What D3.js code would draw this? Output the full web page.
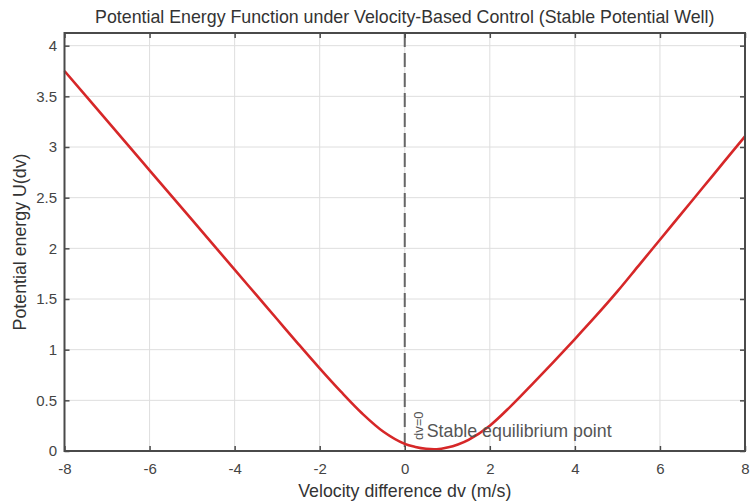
<!DOCTYPE html>
<html>
<head>
<meta charset="utf-8">
<script src="https://cdn.jsdelivr.net/npm/d3@7"></script>
<style>
  html, body { margin: 0; padding: 0; background: #fff; }
  svg { display: block; font-family: "Liberation Sans", Arial, sans-serif; }
</style>
</head>
<body>
<div id="chart"></div>
<script>
// ---- data ----
const dvValues = [-8, -7, -6, -5, -4, -3.5, -3, -2.5, -2, -1.5, -1, -0.5, 0, 0.25, 0.5, 0.75, 1, 1.25, 1.5, 2, 2.5, 3, 3.5, 4, 4.5, 5, 5.5, 6, 6.5, 7, 7.5, 8];
const uValues  = [3.75, 3.26, 2.77, 2.28, 1.79, 1.545, 1.30, 1.055, 0.815, 0.585, 0.37, 0.19, 0.07, 0.04, 0.022, 0.018, 0.035, 0.065, 0.11, 0.25, 0.445, 0.66, 0.88, 1.105, 1.335, 1.575, 1.83, 2.085, 2.34, 2.595, 2.85, 3.105];
const xTicks = [-8, -6, -4, -2, 0, 2, 4, 6, 8];
const yTicks = [0, 0.5, 1, 1.5, 2, 2.5, 3, 3.5, 4];
const titleText = "Potential Energy Function under Velocity-Based Control (Stable Potential Well)";
const xLabel = "Velocity difference dv (m/s)";
const yLabel = "Potential energy U(dv)";
const refLabel = "dv=0";
const annotText = "Stable equilibrium point";

(function () {
const W = 750, H = 504;
const mLeft = 64.5, mRight = 745, mTop = 33, mBottom = 451;

const svg = d3.select("#chart").append("svg").attr("width", W).attr("height", H);

const x = d3.scaleLinear().domain([-8, 8]).range([mLeft, mRight]);
const y = d3.scaleLinear().domain([0, 4.125]).range([mBottom, mTop]);

// grid
const grid = svg.append("g");
grid.selectAll("line.vx").data(xTicks).join("line")
  .attr("x1", d => x(d)).attr("x2", d => x(d))
  .attr("y1", mTop).attr("y2", mBottom)
  .attr("stroke", "#dedede").attr("stroke-width", 1);
grid.selectAll("line.hy").data(yTicks).join("line")
  .attr("x1", mLeft).attr("x2", mRight)
  .attr("y1", d => y(d)).attr("y2", d => y(d))
  .attr("stroke", "#dedede").attr("stroke-width", 1);

// dashed reference line at dv = 0
svg.append("line")
  .attr("x1", x(0)).attr("x2", x(0))
  .attr("y1", mTop).attr("y2", mBottom)
  .attr("stroke", "#666").attr("stroke-width", 2)
  .attr("stroke-dasharray", "14,6");

// curve
const line = d3.line().x((d, i) => x(dvValues[i])).y(d => y(d)).curve(d3.curveCatmullRom.alpha(0.5));
svg.append("path").datum(uValues)
  .attr("d", line)
  .attr("fill", "none")
  .attr("stroke", "#d62728")
  .attr("stroke-width", 2.6);

// axes (inward ticks on all sides)
const tickStyle = g => {
  g.select(".domain").remove();
  g.selectAll(".tick line").attr("stroke", "#4a4a4a").attr("stroke-width", 1.5);
  g.selectAll(".tick text").attr("fill", "#444").style("font-size", "15px");
};
svg.append("g").attr("transform", `translate(0,${mBottom})`)
  .call(d3.axisBottom(x).tickValues(xTicks).tickFormat(d => String(d)).tickSizeInner(-5).tickSizeOuter(0).tickPadding(12))
  .call(tickStyle);
svg.append("g").attr("transform", `translate(0,${mTop})`)
  .call(d3.axisTop(x).tickValues(xTicks).tickSizeInner(-5).tickSizeOuter(0).tickFormat(""))
  .call(tickStyle);
svg.append("g").attr("transform", `translate(${mLeft},0)`)
  .call(d3.axisLeft(y).tickValues(yTicks).tickFormat(d => String(d)).tickSizeInner(-5).tickSizeOuter(0).tickPadding(7.5))
  .call(tickStyle);
svg.append("g").attr("transform", `translate(${mRight},0)`)
  .call(d3.axisRight(y).tickValues(yTicks).tickSizeInner(-5).tickSizeOuter(0).tickFormat(""))
  .call(tickStyle);

// frame
svg.append("rect")
  .attr("x", mLeft).attr("y", mTop)
  .attr("width", mRight - mLeft).attr("height", mBottom - mTop)
  .attr("fill", "none").attr("stroke", "#4a4a4a").attr("stroke-width", 2);

// title & labels
svg.append("text").attr("x", (mLeft + mRight) / 2).attr("y", 23)
  .attr("text-anchor", "middle").attr("fill", "#333").style("font-size", "17.8px")
  .text(titleText);
svg.append("text").attr("x", (mLeft + mRight) / 2).attr("y", 497)
  .attr("text-anchor", "middle").attr("fill", "#333").style("font-size", "17.8px")
  .text(xLabel);
svg.append("text").attr("transform", `translate(25.5,${(mTop + mBottom) / 2}) rotate(-90)`)
  .attr("text-anchor", "middle").attr("fill", "#333").style("font-size", "17.8px")
  .text(yLabel);

// annotations
svg.append("text").attr("transform", `translate(${x(0) + 18},440) rotate(-90)`)
  .attr("text-anchor", "start").attr("fill", "#555").style("font-size", "13px")
  .text(refLabel);
svg.append("text").attr("x", x(0) + 22).attr("y", 437)
  .attr("fill", "#555").style("font-size", "17.8px")
  .text(annotText);
})();
</script>
</body>
</html>
